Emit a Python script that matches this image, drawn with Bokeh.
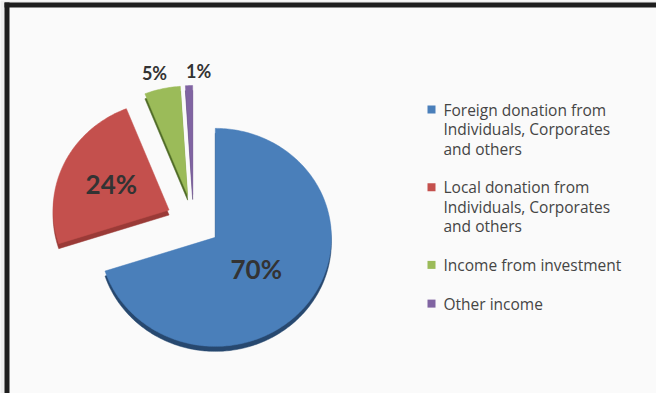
import numpy as np
from bokeh.plotting import figure
from bokeh.models import Range1d, ColumnDataSource
from bokeh.core.properties import value
from bokeh.embed import file_html
from bokeh.resources import INLINE

# ---- data ----
categories = [
    "Foreign donation from Individuals, Corporates and others",
    "Local donation from Individuals, Corporates and others",
    "Income from investment",
    "Other income",
]
shares = [70, 24, 5, 1]
pct_labels = ["70%", "24%", "5%", "1%"]
legend_lines = [
    ["Foreign donation from", "Individuals, Corporates", "and others"],
    ["Local donation from", "Individuals, Corporates", "and others"],
    ["Income from investment"],
    ["Other income"],
]

# ---- style ----
colors = ["#4a7fba", "#c4504d", "#9bbb59", "#8064a2"]
side_colors = ["#27486f", "#9a3a37", "#4f6b26", "#5a4577"]
label_font = "Lato"
legend_font = "Open Sans"
W, H = 656, 393
OX, OY = 8, 401          # page pixel -> data transform


def X(px):
    return px - OX


def Y(py):
    return OY - py


cx, cy = 201.0, 229.0     # pie centre (page px)
rx, ry = 116.0, 109.0     # radii (slight 3-D tilt)
explode = 27.0
depth = 5.0
label_r = [0.5, 0.55, 1.15, 1.13]
label_dx = [-6, 0, -4, 10]
label_size = ["26px", "26px", "18px", "18px"]

p = figure(width=W, height=H, x_range=Range1d(0, W), y_range=Range1d(0, H),
           output_backend="svg", toolbar_location=None, min_border=0)
p.axis.visible = False
p.grid.visible = False
p.outline_line_color = None
p.background_fill_color = "#efefef"
p.border_fill_color = "#efefef"

# inner panel and black frame
p.quad(left=X(14), right=X(680), bottom=Y(420), top=Y(13), fill_color="#fafafa", line_color=None)
p.quad(left=X(12), right=X(680), bottom=Y(15), top=Y(10), fill_color="#1e1e1e", line_color=None)
p.quad(left=X(12), right=X(17), bottom=Y(420), top=Y(10), fill_color="#1e1e1e", line_color=None)

# ---- slices ----
total = float(sum(shares))
cum = np.concatenate([[0.0], np.cumsum(shares)]) / total * 360.0
xs, ys, sxs, sys_, lx, ly = [], [], [], [], [], []
for i, s in enumerate(shares):
    a0, a1 = np.radians(cum[i]), np.radians(cum[i + 1])
    mid = 0.5 * (a0 + a1)
    ax = cx + explode * np.sin(mid)
    ay = cy - explode * np.cos(mid)
    t = np.linspace(a0, a1, max(4, int(np.degrees(a1 - a0)) + 2))
    px = np.concatenate([[ax], ax + rx * np.sin(t)])
    py = np.concatenate([[ay], ay - ry * np.cos(t)])
    xs.append(list(X(px)))
    ys.append(list(Y(py)))
    sxs.append(list(X(px)))
    sys_.append(list(Y(py + depth)))
    lx.append(X(ax + label_r[i] * rx * np.sin(mid) + label_dx[i]))
    ly.append(Y(ay - label_r[i] * ry * np.cos(mid)))

p.patches(xs=sxs, ys=sys_, fill_color=side_colors, line_color=side_colors, line_width=0.5)
p.patches(xs=xs, ys=ys, fill_color=colors, line_color=colors, line_width=0.5)

for i in range(len(shares)):
    p.text(x=[lx[i]], y=[ly[i]], text=[pct_labels[i]], text_font=value(label_font),
           text_font_size=label_size[i], text_font_style="bold", text_color="#333333",
           text_align="center", text_baseline="middle")

# ---- legend ----
leg_sq_x = 439
leg_tx = 451
line_h = 19.5
gap = 38.7
yy = 117.0
for i, lines in enumerate(legend_lines):
    p.rect(x=[X(leg_sq_x)], y=[Y(yy)], width=8, height=8, fill_color=colors[i], line_color=None)
    for j, ln in enumerate(lines):
        p.text(x=[X(leg_tx)], y=[Y(yy + j * line_h)], text=[ln], text_font=value(legend_font),
               text_font_size="15.5px", text_color="#454545",
               text_align="left", text_baseline="middle")
    yy = yy + (len(lines) - 1) * line_h + gap

open("out.html", "w").write(file_html(p, INLINE))
